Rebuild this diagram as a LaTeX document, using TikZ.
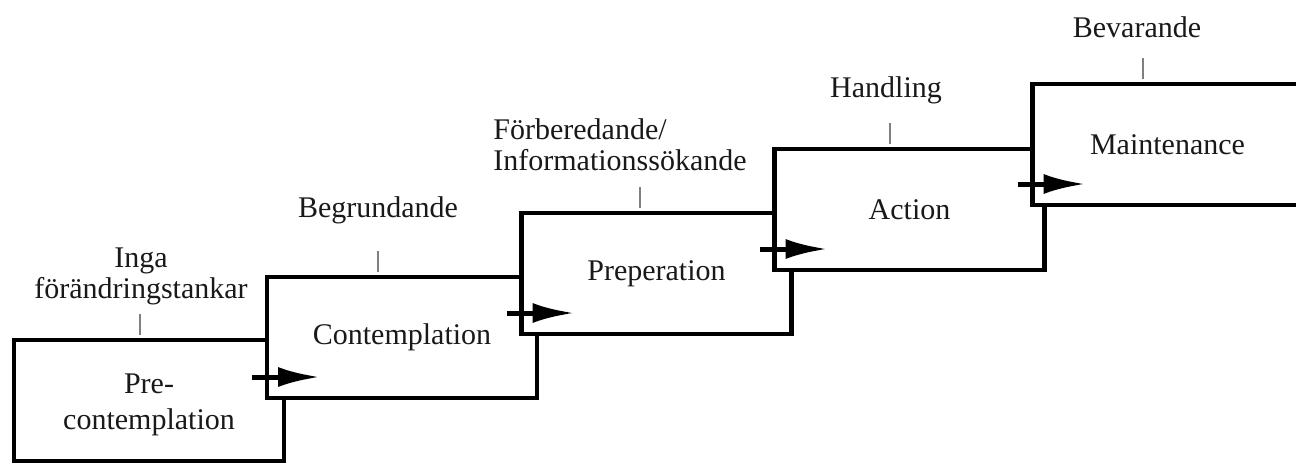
\documentclass[tikz,border=0pt]{standalone}
\usepackage{fontspec}
\setmainfont{Liberation Serif}
\usetikzlibrary{arrows.meta,calc}
\begin{document}
\begin{tikzpicture}[x=0.5pt,y=-0.5pt,
  stage/.style={draw=black, line width=2.4pt, fill=white, minimum width=135pt, minimum height=60.5pt, inner sep=0pt, outer sep=0pt, font=\fontsize{15}{18}\selectfont, align=center, text=black!90},
  lbl/.style={font=\fontsize{15}{15.5}\selectfont, inner sep=0pt, text=black!90},
  tickline/.style={draw=black!50, line width=0.9pt},
  stagearrow/.style={line width=2.5pt, -{Latex[length=21pt,width=10pt]}}
]
\useasboundingbox (0,0) rectangle (1296,463);
\clip (0,0) rectangle (1296,463);
% boxes
\node[stage] (b1) at (149,400.5) {\rule{0pt}{14.5pt}Pre-\\contemplation};
\node[stage] (b2) at (402,337.5) {Contemplation};
\node[stage] (b3) at (656.5,273.5) {Preperation};
\node[stage] (b4) at (909.5,209.5) {Action};
\node[stage] (b5) at (1167.5,144.5) {Maintenance};
% arrows
\foreach \n in {2,...,5}{
  \coordinate (s\n) at ($(b\n.south west)+(-15,-21)$);
  \coordinate (e\n) at ($(b\n.south west)+(53,-21)$);
  \draw[stagearrow] (s\n) -- (e\n);
}
% labels
\node[lbl, anchor=base, align=center] (l1) at (141,298) {Inga\\förändringstankar};
\node[lbl, anchor=base] (l2) at (378,217) {Begrundande};
\node[lbl, anchor=base west, align=left] (l3) at (493,170) {Förberedande/\\Informationssökande};
\node[lbl, anchor=base] (l4) at (886,97) {Handling};
\node[lbl, anchor=base] (l5) at (1137,37) {Bevarande};
% ticks
\draw[tickline] (140,314) -- (140,335);
\draw[tickline] (378,251) -- (378,272);
\draw[tickline] (640,187) -- (640,208);
\draw[tickline] (890,123) -- (890,144);
\draw[tickline] (1143,58) -- (1143,79);
\end{tikzpicture}
\end{document}
